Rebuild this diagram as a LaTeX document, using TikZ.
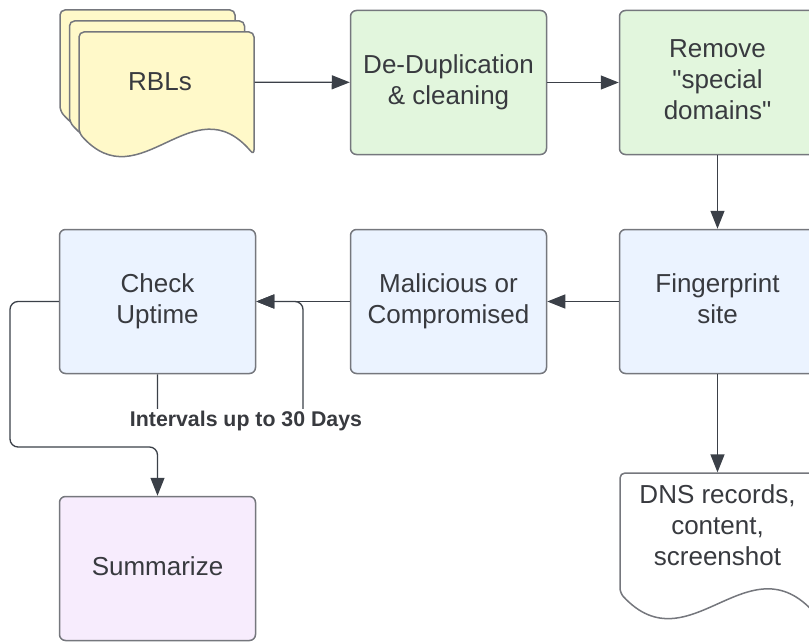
\documentclass[tikz,border=0pt]{standalone}
\usepackage{fontspec}
\setmainfont{Liberation Sans}[Ligatures=TeXOff]
\usetikzlibrary{arrows.meta}

\definecolor{docyellow}{HTML}{FFF9C9}
\definecolor{stepgreen}{HTML}{E2F6DD}
\definecolor{stepblue}{HTML}{EBF3FF}
\definecolor{steppurple}{HTML}{F7ECFD}
\definecolor{edgegray}{HTML}{75777D}
\definecolor{arrowgray}{HTML}{3B4048}
\definecolor{textgray}{HTML}{383A3F}

\begin{document}
\begin{tikzpicture}[x=1pt,y=-1pt,->,>={Stealth[length=18pt,width=14pt,inset=0pt]},
    line width=1.3pt,draw=arrowgray,
    box/.style={rectangle,draw=edgegray,line width=1.5pt,rounded corners=6pt,
      minimum width=196pt,minimum height=144pt,align=center,text=textgray,
      font=\fontsize{26}{31}\selectfont,execute at end node=\vphantom{g}},
    sheet/.style={-,draw=edgegray,line width=1.5pt,rounded corners=5pt},
    doc text/.style={align=center,text=textgray,font=\fontsize{26}{31}\selectfont},
    note/.style={fill=white,text=textgray,inner sep=2pt,
      font=\bfseries\fontsize{21.3}{25}\selectfont}]

  \useasboundingbox (0,0) rectangle (809,642);

  % stacked sheets
  \foreach \s in {2,1,0}
    \draw[sheet,fill=docyellow,shift={(-9.5*\s,-11*\s)}]
      (79,133) -- (79,32) -- (254,32) -- (254,155)
      .. controls (192.75,83) and (140.25,201) .. (79,133) -- cycle;

  % output sheet
  \draw[sheet,fill=white]
    (620,593) -- (620,473) -- (818,473) -- (818,617)
    .. controls (748.7,538) and (689.3,667.4) .. (620,593) -- cycle;

  \node[doc text,minimum width=188pt,minimum height=100pt] (rbls) at (160,82) {RBLs};
  \node[box,fill=stepgreen] (dedup) at (448.5,82.5) {De-Duplication\\\& cleaning};
  \node[box,fill=stepgreen] (remove) at (717.5,82.5) {Remove\\"special\\domains"};
  \node[box,fill=stepblue] (finger) at (717.5,301.5) {Fingerprint\\site};
  \node[box,fill=stepblue] (malic) at (448.5,301.5) {Malicious or\\Compromised};
  \node[box,fill=stepblue] (check) at (157.5,301.5) {Check\\Uptime};
  \node[box,fill=steppurple] (summ) at (157.5,568.5) {Summarize};
  \node[doc text,minimum width=196pt,minimum height=104pt] (dns) at (717.5,525)
    {DNS records,\\content,\\screenshot};

  \coordinate (loop) at (303,421);
  \coordinate (lft) at (10,447);

  \path
  (rbls) edge (dedup)
  (dedup) edge (remove)
  (remove) edge (finger)
  (finger) edge (malic)
  (malic) edge (check)
  (finger) edge (dns);

  % re-check loop
  \draw[rounded corners=8pt] (check.south) |- (loop) |- (check.east);
  \node[note] (interval) at (246,421) {Intervals up to 30 Days};

  \draw[rounded corners=8pt] (check.west) -| (lft) -| (summ.north);
\end{tikzpicture}
\end{document}
